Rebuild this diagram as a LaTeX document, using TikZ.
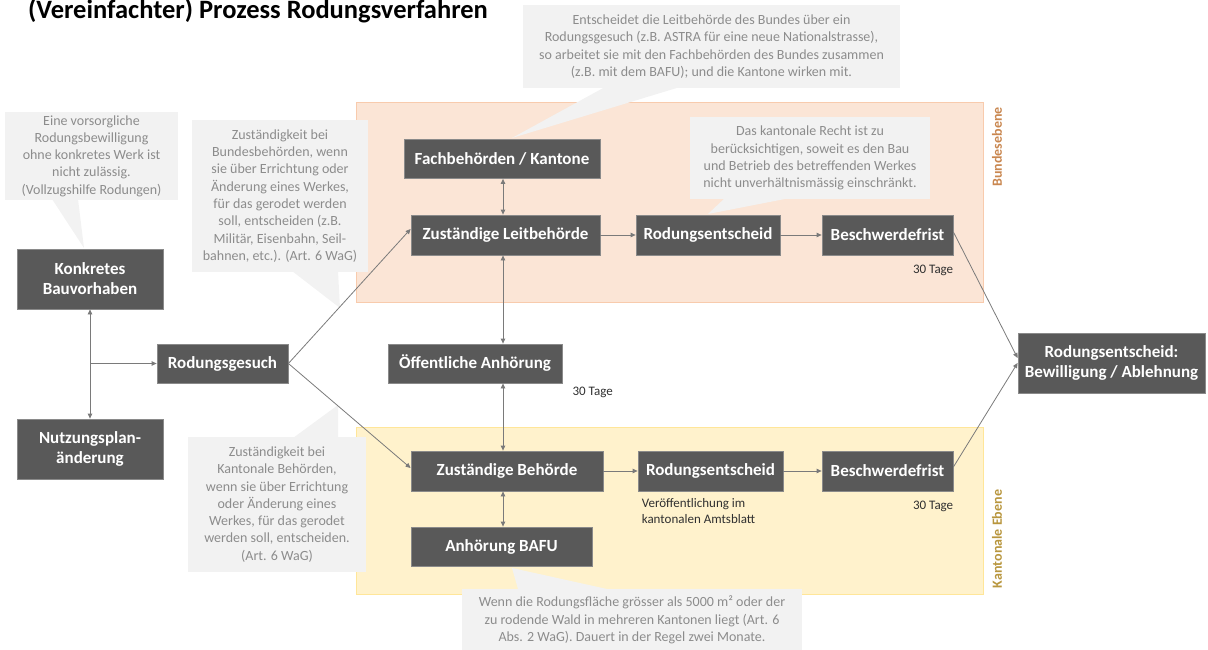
\documentclass[tikz,border=0pt]{standalone}
\usepackage{fontspec}
\setmainfont{Carlito}
\usetikzlibrary{arrows.meta,calc}
\definecolor{boxfill}{HTML}{595959}
\definecolor{boxline}{HTML}{8A8A8A}
\definecolor{callfill}{HTML}{F2F2F2}
\definecolor{calltext}{HTML}{8C8C8C}
\definecolor{conncol}{HTML}{7A7A7A}
\definecolor{peach}{HTML}{FBE5D6}
\definecolor{peachline}{HTML}{F8CBAD}
\definecolor{yell}{HTML}{FFF2CC}
\definecolor{yellline}{HTML}{FFE699}
\definecolor{bundcol}{HTML}{C98750}
\definecolor{kantcol}{HTML}{B8963E}
\definecolor{smalltext}{HTML}{303030}
\tikzset{
  box/.style={draw=boxline, line width=0.8pt, fill=boxfill, text=white,
    font=\fontsize{17}{20}\selectfont\bfseries, align=center, inner sep=0pt},
  callout/.style={fill=callfill, text=calltext,
    font=\fontsize{14}{17.3}\selectfont, align=center, inner sep=0pt},
  tail/.style={fill=callfill},
  conn/.style={draw=conncol, line width=0.8pt, -{Triangle[length=5pt,width=4.5pt]}},
  biarrow/.style={draw=conncol, line width=0.8pt,
    {Triangle[length=5pt,width=4.5pt]}-{Triangle[length=5pt,width=4.5pt]}},
  note/.style={text=smalltext, font=\fontsize{13}{16}\selectfont, inner sep=0pt},
  level/.style={font=\fontsize{14}{16}\selectfont\bfseries, rotate=90, inner sep=0pt}
}
\begin{document}
\begin{tikzpicture}[x=1pt,y=-1pt]
\useasboundingbox (0,0) rectangle (1208,650);

% title
\node[anchor=base west, inner sep=0pt, font=\fontsize{26.5}{30}\selectfont\bfseries] (title) at (28,18.5) {(Vereinfachter) Prozess Rodungsverfahren};

% level regions
\draw[fill=peach, draw=peachline, line width=1pt] (356,103) rectangle (983,302);
\draw[fill=yell, draw=yellline, line width=1pt] (356,427) rectangle (983,594);
\node[level, text=bundcol] (lvb) at (997,147) {Bundesebene};
\node[level, text=kantcol] (lvk) at (997,539) {Kantonale Ebene};

% callouts
\fill[tail] (52,199) -- (78,199) -- (84,248) -- cycle;
\node[callout, minimum width=173pt, minimum height=88pt] (c1) at (91.5,156)
  {Eine vorsorgliche\\Rodungsbewilligung\\ohne konkretes Werk ist\\nicht zulässig.\\(Vollzugshilfe  Rodungen)};

\fill[tail] (292,271) -- (338,271) -- (340,308) -- cycle;
\node[callout, minimum width=176pt, minimum height=152pt] (c2) at (280,196)
  {Zuständigkeit  bei\\Bundesbehörden,  wenn\\sie über Errichtung oder\\Änderung  eines Werkes,\\für das gerodet werden\\soll, entscheiden  (z.B.\\Militär, Eisenbahn, Seil-\\bahnen, etc.). (Art. 6 WaG)};

\fill[tail] (293,438) -- (338,438) -- (338,405) -- cycle;
\node[callout, minimum width=178pt, minimum height=135pt] (c3) at (277,504.5)
  {Zuständigkeit  bei\\Kantonale Behörden,\\wenn sie über Errichtung\\oder Änderung  eines\\Werkes, für das gerodet\\werden soll, entscheiden.\\(Art. 6 WaG)};

\fill[tail] (605,87) -- (680,87) -- (512,138) -- cycle;
\node[callout, minimum width=377pt, minimum height=83pt] (c4) at (711.5,46.5)
  {Entscheidet die Leitbehörde  des Bundes  über ein\\Rodungsgesuch  (z.B. ASTRA für eine neue Nationalstrasse),\\so arbeitet sie mit den Fachbehörden  des Bundes  zusammen\\(z.B. mit dem  BAFU); und die Kantone wirken mit.};

\fill[tail] (725,198) -- (790,198) -- (708,214) -- cycle;
\node[callout, minimum width=240pt, minimum height=82pt] (c5) at (810,158)
  {Das kantonale Recht ist zu\\berücksichtigen,  soweit es den Bau\\und Betrieb des betreffenden  Werkes\\nicht unverhältnismässig  einschränkt.};

\fill[tail] (518,589) -- (607,589) -- (512,568) -- cycle;
\node[callout, minimum width=340pt, minimum height=62pt] (c6) at (632,620)
  {Wenn die Rodungsfläche grösser als 5000 m² oder der\\zu rodende Wald in mehreren  Kantonen  liegt (Art. 6\\Abs. 2 WaG). Dauert in der Regel  zwei Monate.};

% process boxes
\node[box, minimum width=146pt, minimum height=60pt] (KB) at (90,279) {Konkretes\\Bauvorhaben};
\node[box, minimum width=146pt, minimum height=60pt] (NP) at (90,449) {Nutzungsplan-\\änderung};
\node[box, minimum width=131pt, minimum height=39pt] (RG) at (222.5,363.5) {Rodungsgesuch};
\node[box, minimum width=196pt, minimum height=39pt] (FK) at (502,159) {Fachbehörden / Kantone};
\node[box, minimum width=189pt, minimum height=40pt] (ZL) at (505.5,235) {Zuständige Leitbehörde};
\node[box, minimum width=144pt, minimum height=40pt] (RE1) at (708,235) {Rodungsentscheid};
\node[box, minimum width=131pt, minimum height=40pt] (BF1) at (887.5,235) {Beschwerdefrist};
\node[box, minimum width=174pt, minimum height=39pt] (OA) at (475,363.5) {Öffentliche Anhörung};
\node[box, minimum width=192pt, minimum height=40pt] (ZB) at (507,471) {Zuständige Behörde};
\node[box, minimum width=145pt, minimum height=40pt] (RE2) at (710.5,471) {Rodungsentscheid};
\node[box, minimum width=131pt, minimum height=40pt] (BF2) at (887.5,471) {Beschwerdefrist};
\node[box, minimum width=181pt, minimum height=39pt] (AB) at (501.5,546.5) {Anhörung BAFU};
\node[box, minimum width=187pt, minimum height=60pt] (FIN) at (1111.5,363) {Rodungsentscheid:\\Bewilligung / Ablehnung};

% small notes
\node[note, anchor=north east] (t1) at ([yshift=-9pt]BF1.south east) {30 Tage};
\node[note, anchor=north west] (t2) at ([xshift=10pt,yshift=-3pt]OA.south east) {30 Tage};
\node[note, anchor=north east] (t3) at ([yshift=-9pt]BF2.south east) {30 Tage};
\node[note, anchor=north west, align=left] (pub) at ([xshift=4pt,yshift=-7pt]RE2.south west) {Veröffentlichung im\\kantonalen Amtsblatt};

% connectors
\coordinate (j) at (KB.south |- RG.west);
\coordinate (sp) at (503,0);
\draw[biarrow] (KB.south) -- (NP.north);
\draw[conn] (j) -- (RG.west);
\draw[conn] (RG.east) -- ([yshift=6pt]ZL.west);
\draw[conn] (RG.east) -- ([yshift=3pt]ZB.west);
\draw[biarrow] (FK.south -| sp) -- (ZL.north -| sp);
\draw[biarrow] (ZL.south -| sp) -- (OA.north -| sp);
\draw[biarrow] (OA.south -| sp) -- (ZB.north -| sp);
\draw[biarrow] (ZB.south -| sp) -- (AB.north -| sp);
\draw[conn] (ZL.east) -- (RE1.west);
\draw[conn] (RE1.east) -- (BF1.west);
\draw[conn] (ZB.east) -- (RE2.west);
\draw[conn] (RE2.east) -- (BF2.west);
\draw[conn] ([yshift=3pt]BF1.east) -- ([yshift=5pt]FIN.west);
\draw[conn] ([yshift=4pt]BF2.east) -- ([yshift=0pt]FIN.west);
\end{tikzpicture}
\end{document}
